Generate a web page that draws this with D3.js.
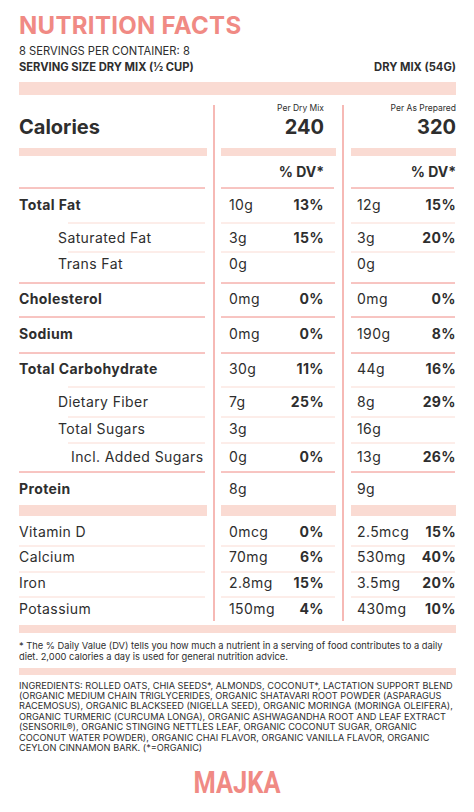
<!DOCTYPE html>
<html><head><meta charset="utf-8">
<script src="https://cdn.jsdelivr.net/npm/d3@7"></script>
<style>body{margin:0;background:#fff}svg{display:block}</style>
</head><body>
<div class="label"></div>
<script>
// nutrient rows
const nutrients = ["Total Fat","Saturated Fat","Trans Fat","Cholesterol","Sodium","Total Carbohydrate","Dietary Fiber","Total Sugars","Incl. Added Sugars","Protein","Vitamin D","Calcium","Iron","Potassium"];
const dryAmount = ["10g","3g","0g","0mg","0mg","30g","7g","3g","0g","8g","0mcg","70mg","2.8mg","150mg"];
const dryDV = ["13%","15%","","0%","0%","11%","25%","","0%","","0%","6%","15%","4%"];
const prepAmount = ["12g","3g","0g","0mg","190g","44g","8g","16g","13g","9g","2.5mcg","530mg","3.5mg","430mg"];
const prepDV = ["15%","20%","","0%","8%","16%","29%","","26%","","15%","40%","20%","10%"];
const calories = [240, 320];

const indent = [0,1,1,0,0,0,1,1,2,0,0,0,0,0];
const bold = [1,0,0,1,1,1,0,0,0,1,0,0,0,0];
const rowY = [206,239,265,300,335,370,403,430,458,490,533,558,584,610];
const below = ["li","li","red","red","red","li","li","li","red","band","l","l","l",null];
const lineY = [223,252,283,317,353,387,417,443,472,505,546,572,597,null];

const ingredients = [
 "INGREDIENTS: ROLLED OATS, CHIA SEEDS*, ALMONDS, COCONUT*, LACTATION SUPPORT BLEND",
 "(ORGANIC MEDIUM CHAIN TRIGLYCERIDES, ORGANIC SHATAVARI ROOT POWDER (ASPARAGUS",
 "RACEMOSUS), ORGANIC BLACKSEED (NIGELLA SEED), ORGANIC MORINGA (MORINGA OLEIFERA),",
 "ORGANIC TURMERIC (CURCUMA LONGA), ORGANIC ASHWAGANDHA ROOT AND LEAF EXTRACT",
 "(SENSORIL®), ORGANIC STINGING NETTLES LEAF, ORGANIC COCONUT SUGAR, ORGANIC",
 "COCONUT WATER POWDER), ORGANIC CHAI FLAVOR, ORGANIC VANILLA FLAVOR, ORGANIC",
 "CEYLON CINNAMON BARK. (*=ORGANIC)"];
const footnote = ["* The % Daily Value (DV) tells you how much a nutrient in a serving of food contributes to a daily",
 "diet. 2,000 calories a day is used for general nutrition advice."];

const W = 474, H = 812;
const pink = "#f08a84", band = "#fadbd3", ink = "#2e2e2e", font = "Inter, 'Open Sans', sans-serif";
const svg = d3.select(".label").append("svg").attr("width", W).attr("height", H)
  .attr("font-family", font).attr("fill", ink);

const txt = (x, y, s, size, weight, anchor, fill) => svg.append("text").attr("x", x).attr("y", y)
  .attr("font-size", size).attr("font-weight", weight || 400).attr("text-anchor", anchor || "start")
  .attr("fill", fill || ink).attr("dominant-baseline", "middle").text(s);
const rect = (x, y, w, h, c) => svg.append("rect").attr("x", x).attr("y", y).attr("width", w).attr("height", h).attr("fill", c);
const hline = (x1, x2, y, c, w) => svg.append("line").attr("x1", x1).attr("x2", x2).attr("y1", y).attr("y2", y).attr("stroke", c).attr("stroke-width", w || 1);

// header
txt(19, 27, "NUTRITION FACTS", 24, 700, "start", pink).attr("letter-spacing", 0.3);
txt(19, 52, "8 SERVINGS PER CONTAINER: 8", 11.2, 400);
txt(19, 68, "SERVING SIZE DRY MIX (½ CUP)", 11.2, 700);
txt(456, 68, "DRY MIX (54G)", 11.2, 700, "end");
rect(19, 82, 437, 13, band);

// columns
const cols = [{x0: 221, x1: 336, val: 229, dv: 324}, {x0: 351, x1: 456, val: 357, dv: 456}];
const leftCol = {x0: 19, x1: 207};
[214, 343].forEach(x => svg.append("line").attr("x1", x).attr("x2", x).attr("y1", 105).attr("y2", 621).attr("stroke", pink).attr("stroke-width", 1.2));

txt(19, 129, "Calories", 20, 700);
["Per Dry Mix", "Per As Prepared"].forEach((s, i) => txt(cols[i].dv, 109, s, 8.5, 400, "end"));
calories.forEach((c, i) => txt(cols[i].dv, 129, c, 20, 700, "end"));
rect(leftCol.x0, 148, leftCol.x1 - leftCol.x0, 8, band);
cols.forEach(c => rect(c.x0, 148, c.x1 - c.x0, 8, band));
cols.forEach(c => txt(c.dv, 173, "% DV*", 14, 700, "end"));
hline(19, 205, 188, pink); cols.forEach(c => hline(c.x0, c.x1 - 2, 188, pink));

const indentX = [19, 58, 71];
const body = t => t.attr("letter-spacing", 0.4);
nutrients.forEach((n, i) => {
  const y = rowY[i];
  body(txt(indentX[indent[i]], y, n, 14, bold[i] ? 700 : 400));
  body(txt(cols[0].val, y, dryAmount[i], 14, 400));
  body(txt(cols[0].dv, y, dryDV[i], 14, 700, "end"));
  body(txt(cols[1].val, y, prepAmount[i], 14, 400));
  body(txt(cols[1].dv, y, prepDV[i], 14, 700, "end"));
  const t = below[i], ly = lineY[i];
  if (!t) return;
  if (t === "band") {
    rect(19, ly, 188, 11, band); cols.forEach(c => rect(c.x0, ly, c.x1 - c.x0, 11, band));
  } else {
    const col = t === "red" ? pink : band;
    hline(t === "li" ? 68 : 19, 205, ly, col);
    cols.forEach(c => hline(c.x0, c.x1 - 1, ly, col));
  }
});

rect(19, 625, 437, 8, band);
footnote.forEach((s, i) => txt(19, 646 + i * 11, s, 9.3, 400));
rect(19, 668, 437, 7, band);
ingredients.forEach((s, i) => txt(19, 686 + i * 10.4, s, 9.2, 400));

svg.append("text").attr("x", 0).attr("y", 0).attr("text-anchor", "middle")
  .attr("font-family", "'Liberation Sans Narrow', 'Roboto', sans-serif").attr("font-weight", 700)
  .attr("font-size", 31).attr("fill", pink).attr("transform", "translate(237,793) scale(0.82,1)").text("MAJKA");
</script>
</body></html>
